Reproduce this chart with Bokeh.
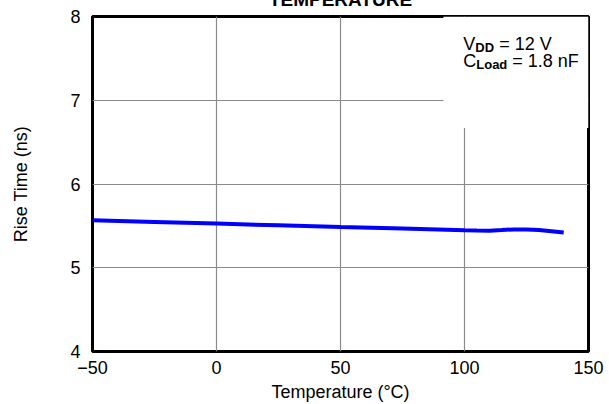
from bokeh.plotting import figure
from bokeh.models import FixedTicker, Label, BoxAnnotation, Title
from bokeh.embed import file_html
from bokeh.resources import INLINE

# ---- data ----
temperature = [-50, -25, 0, 25, 50, 75, 100, 105, 110, 115, 120, 125, 130, 135, 140]
rise_time = [5.567, 5.547, 5.527, 5.507, 5.487, 5.47, 5.448, 5.445, 5.443, 5.45,
             5.458, 5.457, 5.45, 5.437, 5.42]
x_ticks = [-50, 0, 50, 100, 150]
y_ticks = [4, 5, 6, 7, 8]
x_tick_labels = {-50: "\u221250", 0: "0", 50: "50", 100: "100", 150: "150"}
title_text = "TEMPERATURE"
x_label = "Temperature (\u00b0C)"
y_label = "Rise Time (ns)"

FONT = "Liberation Sans"

p = figure(width=601, height=424, x_range=(-50, 150), y_range=(4, 8),
           output_backend="svg", toolbar_location=None,
           min_border_left=84, min_border_right=21, min_border_top=15,
           min_border_bottom=52)
# the reference shows only the lower edge of the title: lift the page by 20px
p.styles = {"position": "absolute", "top": "-20px", "left": "8px"}
p.background_fill_color = "white"
p.border_fill_color = "white"
p.outline_line_color = "black"
p.outline_line_width = 3

p.title = Title(text=title_text, text_font=FONT, text_font_size="19px",
                text_font_style="bold", text_color="black", align="center",
                offset=-22, standoff=13, text_baseline="alphabetic")

p.xaxis.ticker = FixedTicker(ticks=x_ticks)
p.yaxis.ticker = FixedTicker(ticks=y_ticks)
p.xaxis.major_label_overrides = x_tick_labels
for ax in (p.xaxis, p.yaxis):
    ax.axis_line_color = None
    ax.major_tick_line_color = None
    ax.minor_tick_line_color = None
    ax.major_tick_in = 0
    ax.major_tick_out = 0
    ax.major_label_text_font = FONT
    ax.major_label_text_font_size = "18px"
    ax.major_label_text_color = "black"
    ax.axis_label_text_font = FONT
    ax.axis_label_text_font_size = "18px"
    ax.axis_label_text_font_style = "normal"
    ax.axis_label_text_color = "black"
p.xaxis.axis_label = x_label
p.yaxis.axis_label = y_label
p.xaxis.major_label_standoff = 9
p.xaxis.axis_label_standoff = 5
p.yaxis.major_label_standoff = 12
p.yaxis.axis_label_standoff = 36

p.xgrid.ticker = FixedTicker(ticks=x_ticks)
p.ygrid.ticker = FixedTicker(ticks=y_ticks)
for g in (p.xgrid, p.ygrid):
    g.grid_line_color = "#8a8a8a"
    g.grid_line_width = 1.2

# white area behind the condition text
p.add_layout(BoxAnnotation(left=91.5, bottom=6.67, fill_color="white", fill_alpha=1,
                           line_color=None, level="underlay"))

p.line(temperature, rise_time, line_color="#0000ff", line_width=4)

# condition text
ax0 = 99.5
def lab(text, y, xoff, yoff, size, bold=False):
    p.add_layout(Label(x=ax0, y=y, x_offset=xoff, y_offset=yoff, text=text,
                       text_font=FONT, text_font_size=size,
                       text_font_style="bold" if bold else "normal",
                       text_baseline="alphabetic", text_align="left",
                       text_color="black"))

lab("V", 7.668, 0, 0, "18px")
lab("DD", 7.668, 12, -3, "13px", True)
lab("= 12 V", 7.668, 36, 0, "18px")
lab("C", 7.466, 0, 0, "18px")
lab("Load", 7.466, 13, -3, "13px", True)
lab("= 1.8 nF", 7.466, 49, 0, "18px")

open("out.html", "w").write(file_html(p, INLINE))
